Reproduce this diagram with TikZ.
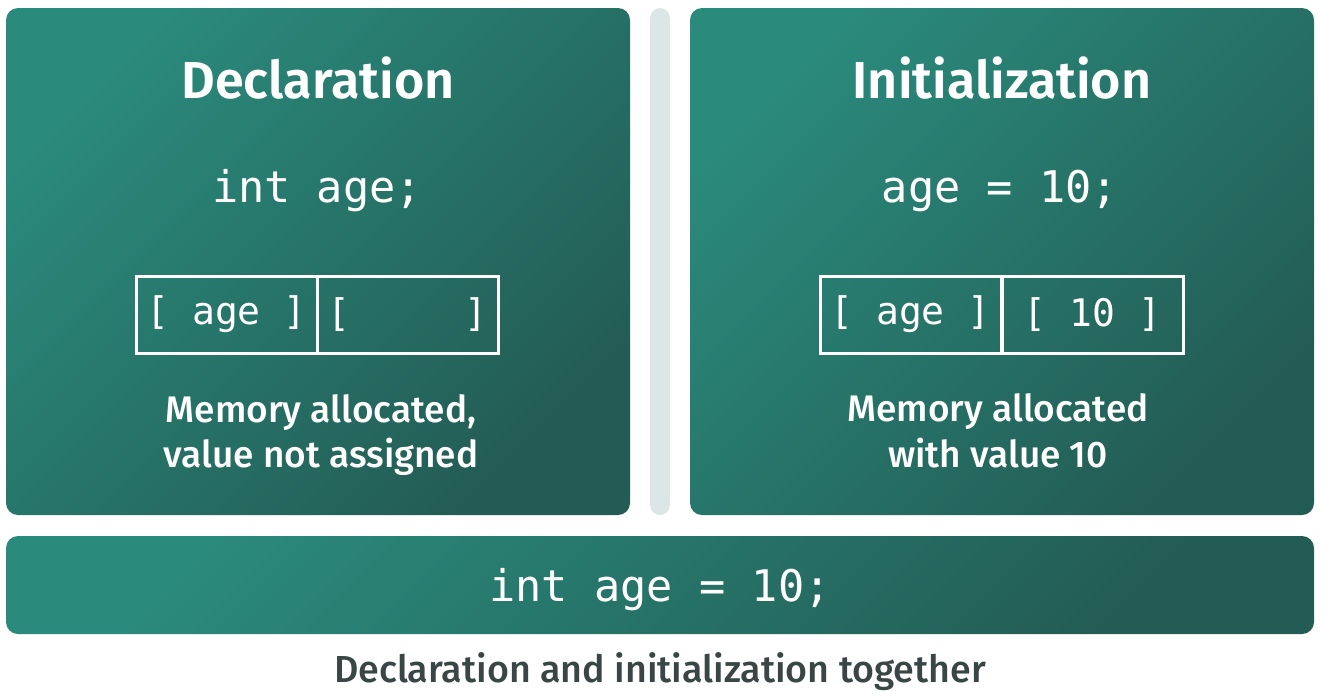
\documentclass[tikz,border=0pt]{standalone}
\usepackage{fontspec}
\setmainfont{Fira Sans}[BoldFont={Fira Sans SemiBold}]
\newfontfamily\medfont{Fira Sans Medium}
\setmonofont{DejaVu Sans Mono}
\definecolor{tealA}{HTML}{2A8A7C}
\definecolor{tealB}{HTML}{235C54}
\definecolor{sepgray}{HTML}{DDE6E6}
\definecolor{captgray}{HTML}{3A4646}
\tikzset{
  panel/.style={rounded corners=6pt, top color=tealA, bottom color=tealB, shading angle=45},
  titletext/.style={text=white, font=\bfseries\fontsize{26}{30}\selectfont, inner sep=0pt},
  codetext/.style={text=white, font=\ttfamily\fontsize{21.8}{25}\selectfont, inner sep=0pt},
  cell/.style={draw=white, line width=1.5pt, text=white, minimum width=90.5pt, minimum height=38.5pt, inner sep=0pt, font=\ttfamily\fontsize{19}{23}\selectfont},
  desctext/.style={text=white, font=\medfont\fontsize{18.5}{22.8}\selectfont, align=center, inner sep=0pt},
  capttext/.style={text=captgray, font=\medfont\fontsize{18.8}{22}\selectfont, inner sep=0pt}
}
\begin{document}
\begin{tikzpicture}[x=0.5pt, y=-0.5pt]
\useasboundingbox (0,0) rectangle (1321,698);
% panels
\shade[panel] (6,8) rectangle (630,515);
\shade[panel] (690,8) rectangle (1314,515);
\shade[panel] (6,536) rectangle (1314,634);
\fill[sepgray, rounded corners=5pt] (650,8) rectangle (670,515);
% left panel
\node[titletext] (t1) at (318,78) {Declaration};
\node[codetext] (c1) at (317,191) {int age;};
\node[cell] (a1) at (226.5,314.5) {[~age~]};
\node[cell] (v1) at (407.5,314.5) {[~~~~~]};
\node[desctext] (d1) at (321,435) {Memory allocated,\\value not assigned};
% right panel
\node[titletext] (t2) at (1002,78) {Initialization};
\node[codetext] (c2) at (1000,191) {age = 10;};
\node[cell] (a2) at (910.5,314.5) {[~age~]};
\node[cell] (v2) at (1092.5,314.5) {[~10~]};
\node[desctext] (d2) at (998,431) {Memory allocated\\with value 10};
% bottom
\node[codetext] (c3) at (660,590) {int age = 10;};
\node[capttext] (cap) at (660,672) {Declaration and initialization together};
\end{tikzpicture}
\end{document}
